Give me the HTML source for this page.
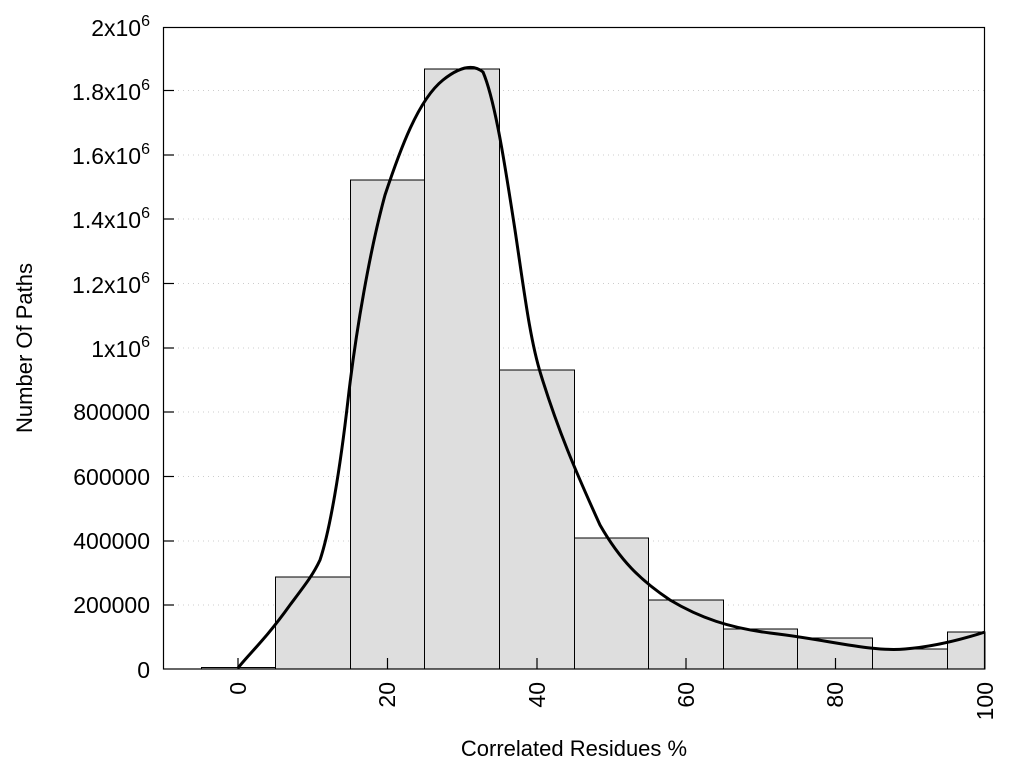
<!DOCTYPE html>
<html><head><meta charset="utf-8"><style>body{margin:0;background:#fff}</style></head><body>
<svg width="1024" height="768" xmlns="http://www.w3.org/2000/svg" font-family="Liberation Sans, sans-serif" font-size="23">
<g stroke="#ccc" stroke-dasharray="1,4" stroke-width="1">
<line x1="163" x2="985" y1="90.5" y2="90.5"/><line x1="163" x2="985" y1="155" y2="155"/><line x1="163" x2="985" y1="219" y2="219"/><line x1="163" x2="985" y1="283.5" y2="283.5"/><line x1="163" x2="985" y1="348" y2="348"/><line x1="163" x2="985" y1="412" y2="412"/><line x1="163" x2="985" y1="476.5" y2="476.5"/><line x1="163" x2="985" y1="541" y2="541"/><line x1="163" x2="985" y1="605" y2="605"/>
</g>
<g fill="#dedede" stroke="#000" stroke-width="1">
<rect x="201.5" y="667.5" width="74" height="1.5"/>
<rect x="275.5" y="577" width="75" height="92"/>
<rect x="350.5" y="180" width="74" height="489"/>
<rect x="424.5" y="69" width="75" height="600"/>
<rect x="499.5" y="370" width="75" height="299"/>
<rect x="574.5" y="538" width="74" height="131"/>
<rect x="648.5" y="600" width="75" height="69"/>
<rect x="723.5" y="629" width="74" height="40"/>
<rect x="797.5" y="638" width="75" height="31"/>
<rect x="872.5" y="649" width="75" height="20"/>
<rect x="947.5" y="632" width="37.5" height="37"/>
</g>
<path d="M238,668 C248,655 265,640 290,605 C305,585 313,575 320,560 C330,530 340,470 348,400 C356,330 370,250 385,195 C400,150 418,100 443,80 C458,68 472,63 483,72 C495,100 505,165 515,230 C524,290 530,340 541,375 C558,430 575,470 600,525 C620,560 640,580 670,600 C700,618 730,628 770,633 C830,640 870,652 905,649 C930,647 960,640 985,632" fill="none" stroke="#000" stroke-width="3"/>
<rect x="163.5" y="27.5" width="821" height="641.5" fill="none" stroke="#000" stroke-width="1.2"/>
<g stroke="#000" stroke-width="1.2">
<line x1="163" x2="174" y1="90.5" y2="90.5"/><line x1="163" x2="174" y1="155" y2="155"/><line x1="163" x2="174" y1="219" y2="219"/><line x1="163" x2="174" y1="283.5" y2="283.5"/><line x1="163" x2="174" y1="348" y2="348"/><line x1="163" x2="174" y1="412" y2="412"/><line x1="163" x2="174" y1="476.5" y2="476.5"/><line x1="163" x2="174" y1="541" y2="541"/><line x1="163" x2="174" y1="605" y2="605"/>
<line x1="238" x2="238" y1="669" y2="658"/><line x1="387.5" x2="387.5" y1="669" y2="658"/><line x1="537" x2="537" y1="669" y2="658"/><line x1="686" x2="686" y1="669" y2="658"/><line x1="835.5" x2="835.5" y1="669" y2="658"/>
</g>
<g text-anchor="end">
<text x="150" y="36">2x10<tspan dy="-10" font-size="16">6</tspan></text>
<text x="150" y="100">1.8x10<tspan dy="-10" font-size="16">6</tspan></text>
<text x="150" y="164">1.6x10<tspan dy="-10" font-size="16">6</tspan></text>
<text x="150" y="228">1.4x10<tspan dy="-10" font-size="16">6</tspan></text>
<text x="150" y="293">1.2x10<tspan dy="-10" font-size="16">6</tspan></text>
<text x="150" y="357">1x10<tspan dy="-10" font-size="16">6</tspan></text>
<text x="150" y="420">800000</text>
<text x="150" y="485">600000</text>
<text x="150" y="549">400000</text>
<text x="150" y="613">200000</text>
<text x="150" y="678">0</text>
</g>
<g text-anchor="end">
<text transform="translate(246,682) rotate(-90)">0</text>
<text transform="translate(395,682) rotate(-90)">20</text>
<text transform="translate(545,682) rotate(-90)">40</text>
<text transform="translate(694,682) rotate(-90)">60</text>
<text transform="translate(843,682) rotate(-90)">80</text>
<text transform="translate(993,682) rotate(-90)">100</text>
</g>
<text x="574" y="756" text-anchor="middle" font-size="22">Correlated Residues %</text>
<text transform="translate(32,348) rotate(-90)" text-anchor="middle" font-size="22">Number Of Paths</text>
</svg>
</body></html>
